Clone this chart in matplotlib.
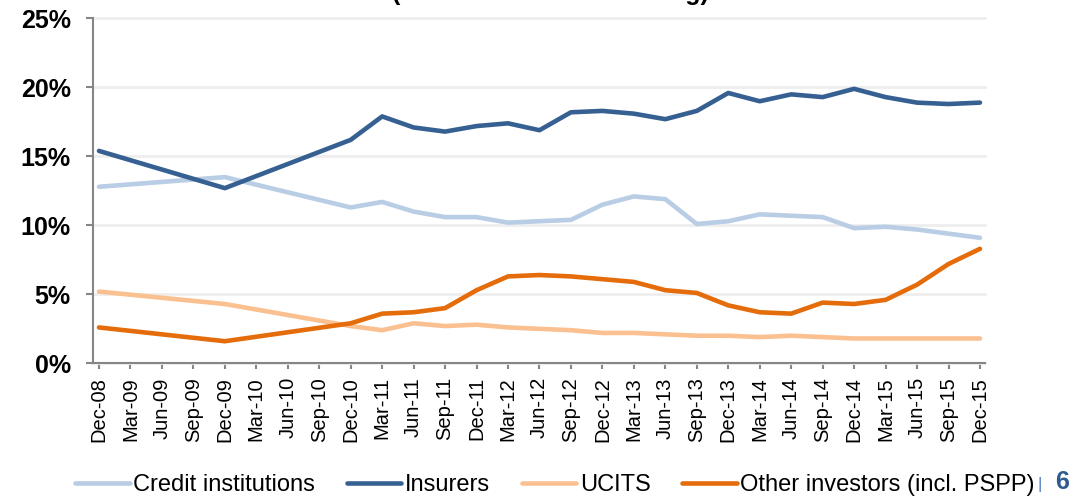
import matplotlib
matplotlib.use("Agg")
import matplotlib.pyplot as plt
import numpy as np

plt.rcParams["font.family"] = ["Liberation Sans", "DejaVu Sans"]

# quarterly axis; 2009-2010 only have year-end observations
quarters = [
    "Dec-08", "Mar-09", "Jun-09", "Sep-09", "Dec-09", "Mar-10", "Jun-10",
    "Sep-10", "Dec-10", "Mar-11", "Jun-11", "Sep-11", "Dec-11", "Mar-12",
    "Jun-12", "Sep-12", "Dec-12", "Mar-13", "Jun-13", "Sep-13", "Dec-13",
    "Mar-14", "Jun-14", "Sep-14", "Dec-14", "Mar-15", "Jun-15", "Sep-15",
    "Dec-15",
]

credit = [12.8, None, None, None, 13.5, None, None, None, 11.3,
          11.7, 11.0, 10.6, 10.6, 10.2, 10.3, 10.4, 11.5, 12.1, 11.9,
          10.1, 10.3, 10.8, 10.7, 10.6, 9.8, 9.9, 9.7, 9.4, 9.1]
insurers = [15.4, None, None, None, 12.7, None, None, None, 16.2,
            17.9, 17.1, 16.8, 17.2, 17.4, 16.9, 18.2, 18.3, 18.1, 17.7,
            18.3, 19.6, 19.0, 19.5, 19.3, 19.9, 19.3, 18.9, 18.8, 18.9]
ucits = [5.2, None, None, None, 4.3, None, None, None, 2.7,
         2.4, 2.9, 2.7, 2.8, 2.6, 2.5, 2.4, 2.2, 2.2, 2.1,
         2.0, 2.0, 1.9, 2.0, 1.9, 1.8, 1.8, 1.8, 1.8, 1.8]
other = [2.6, None, None, None, 1.6, None, None, None, 2.9,
         3.6, 3.7, 4.0, 5.3, 6.3, 6.4, 6.3, 6.1, 5.9, 5.3,
         5.1, 4.2, 3.7, 3.6, 4.4, 4.3, 4.6, 5.7, 7.2, 8.3]

series = [
    ("Credit institutions", credit, "#B9CDE5"),
    ("Insurers", insurers, "#376092"),
    ("UCITS", ucits, "#FAC090"),
    ("Other investors (incl. PSPP)", other, "#E46C0A"),
]

yticks = [0, 5, 10, 15, 20, 25]

fig = plt.figure(figsize=(10.8, 4.98), dpi=100)
ax = fig.add_axes([93 / 1080, 1 - 363.3 / 498, (985 - 93) / 1080,
                   (363.3 - 18.5) / 498])

x = np.arange(len(quarters))
for name, vals, col in series:
    y = np.array([np.nan if v is None else v for v in vals], dtype=float)
    ok = ~np.isnan(y)
    ax.plot(x[ok], y[ok], color=col, lw=3.3, label=name,
            solid_joinstyle="round", solid_capstyle="round")

ax.set_xlim(-0.19, len(quarters) - 1 + 0.16)
ax.set_ylim(0, 25)
ax.set_xticks(x)
ax.set_xticklabels(quarters, rotation=90, fontsize=14.5)
ax.set_yticks(yticks)
ax.set_yticklabels([f"{t}%" for t in yticks], fontsize=18, fontweight="bold")

ax.grid(axis="y", color="#EEEEEE", lw=2)
for gl in ax.get_ygridlines():
    gl.set_clip_on(False)
ax.set_axisbelow(True)
for s in ("top", "right"):
    ax.spines[s].set_visible(False)
for s in ("left", "bottom"):
    ax.spines[s].set_color("#868686")
    ax.spines[s].set_linewidth(1.5)
ax.tick_params(axis="y", length=5, width=1.5, color="#868686", pad=11)
ax.tick_params(axis="x", length=4, width=1.5, color="#868686", pad=6)

# title sits mostly above the visible area, as in the source
fig.text(0.51, 1.0, "(% of amount outstanding)", ha="center", va="baseline",
         fontsize=18, fontweight="bold")

fig.legend(loc="center", bbox_to_anchor=(0.514, 0.026), ncol=4,
           frameon=False, fontsize=17, handlelength=2.3, handletextpad=0.15,
           columnspacing=1.35, borderaxespad=0)

fig.text(0.961, 0.018, "|", color="#4F81BD", fontsize=12, va="baseline")
fig.text(0.977, 0.018, "6", color="#2F5C8F", fontsize=18, fontweight="bold",
         va="baseline")

fig.savefig("out.png", dpi=100)
